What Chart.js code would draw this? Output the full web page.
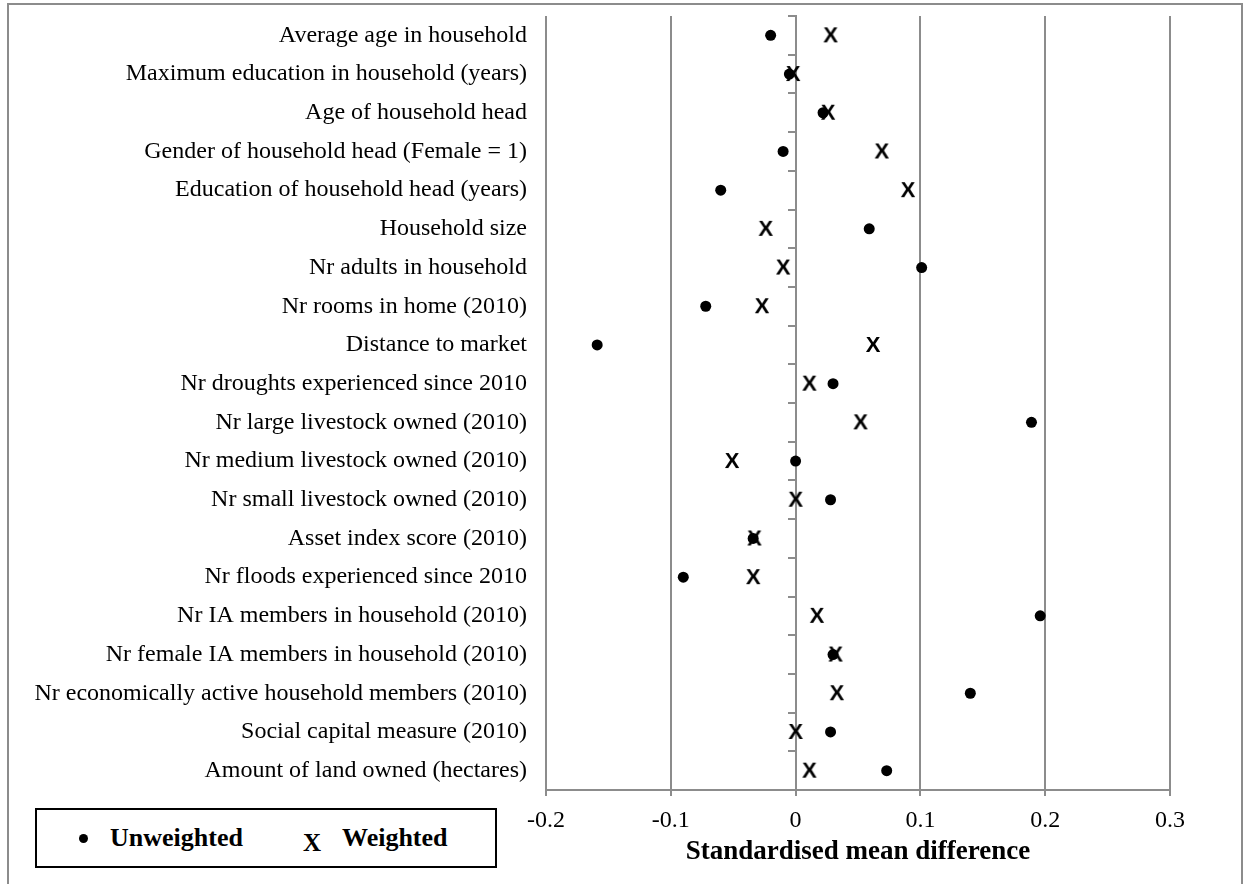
<!DOCTYPE html>
<html>
<head>
<meta charset="utf-8">
<script src="https://cdn.jsdelivr.net/npm/chart.js@4.4.1/dist/chart.umd.min.js"></script>
<style>
  html, body { margin: 0; padding: 0; background: #fff; overflow: hidden; }
  .wrap { position: relative; width: 1252px; height: 884px; }
  .frame { position: absolute; left: 7px; top: 3px; width: 1236px; height: 900px;
           border: 2px solid #8c8c8c; box-sizing: border-box; pointer-events: none; }
  canvas { position: absolute; left: 0; top: 0; }
  .legend { position: absolute; left: 35px; top: 808px; width: 462px; height: 60px;
            border: 2px solid #000; box-sizing: border-box; background: #fff;
            font: bold 26px "Liberation Serif", "Times New Roman", serif; }
  .legend ul { list-style: none; margin: 0; padding: 0; }
  .legend li { position: absolute; top: 13px; white-space: nowrap; }
  .legend .dot { display: inline-block; width: 9px; height: 9px; border-radius: 50%;
                 background: #000; vertical-align: middle; margin-right: 22px; position: relative; top: -2px; }
  .legend .ex { display: inline-block; margin-right: 21px; position: relative; top: 5px; font-size: 25px; }
</style>
</head>
<body>
<div class="wrap">
  <canvas id="smd" width="1252" height="884"></canvas>
  <div class="frame"></div>
  <div class="legend"><ul></ul></div>
</div>
<script>
const categories = [
    "Average age in household",
    "Maximum education in household (years)",
    "Age of household head",
    "Gender of household head (Female = 1)",
    "Education of household head (years)",
    "Household size",
    "Nr adults in household",
    "Nr rooms in home (2010)",
    "Distance to market",
    "Nr droughts experienced since 2010",
    "Nr large livestock owned (2010)",
    "Nr medium livestock owned (2010)",
    "Nr small livestock owned (2010)",
    "Asset index score (2010)",
    "Nr floods experienced since 2010",
    "Nr IA members in household (2010)",
    "Nr female IA members in household (2010)",
    "Nr economically active household members (2010)",
    "Social capital measure (2010)",
    "Amount of land owned (hectares)"
];
const unweighted = [-0.020, -0.005, 0.022, -0.010, -0.060, 0.059, 0.101, -0.072, -0.159, 0.030,
                    0.189, 0.000, 0.028, -0.034, -0.090, 0.196, 0.030, 0.140, 0.028, 0.073];
const weighted = [0.028, -0.002, 0.026, 0.069, 0.090, -0.024, -0.010, -0.027, 0.062, 0.011,
                  0.052, -0.051, 0.000, -0.033, -0.034, 0.017, 0.032, 0.033, 0.000, 0.011];
const xTicks = [-0.2, -0.1, 0, 0.1, 0.2, 0.3];

const serif = '"Liberation Serif", "Times New Roman", serif';
const gridGrey = "#8c8c8c";

// bold letter X used as the marker of the weighted series
const xMark = document.createElement("canvas");
xMark.width = 20;
xMark.height = 22;
const xc = xMark.getContext("2d");
xc.font = 'bold 22px "Liberation Sans", Arial, sans-serif';
xc.textAlign = "center";
xc.textBaseline = "middle";
xc.fillStyle = "#000";
xc.fillText("X", 10, 12);

const toPoints = vals => vals.map((v, i) => ({ x: v, y: categories[i] }));

// labels sit in their bands, so no extra room above/below the plot
const noVertPad = s => { s.paddingTop = 0; s.paddingBottom = 0; };

const smd = new Chart(document.getElementById("smd"), {
    type: "scatter",
    data: {
        labels: categories,
        datasets: [
            {
                label: "Unweighted",
                data: toPoints(unweighted),
                pointStyle: "circle",
                pointRadius: 5.5,
                backgroundColor: "#000",
                borderWidth: 0,
                yAxisID: "y",
            },
            {
                label: "Weighted",
                data: toPoints(weighted),
                pointStyle: xMark,
                backgroundColor: "#000",
                yAxisID: "y",
            },
        ],
    },
    options: {
        responsive: false,
        animation: false,
        devicePixelRatio: 1,
        layout: { padding: { top: 16, right: 82, left: 0, bottom: 0 } },
        plugins: {
            legend: { display: false },
            tooltip: { enabled: false },
        },
        scales: {
            x: {
                type: "linear",
                min: -0.2,
                max: 0.3,
                afterBuildTicks: s => { s.ticks = xTicks.map(v => ({ value: v })); },
                afterFit: s => { s.height = 94; },
                ticks: {
                    color: "#000",
                    font: { family: serif, size: 24 },
                    padding: 10,
                    callback: v => String(v),
                },
                grid: { color: gridGrey, lineWidth: 2, tickLength: 6 },
                border: { color: gridGrey, width: 2 },
                title: {
                    display: true,
                    text: "Standardised mean difference",
                    color: "#000",
                    font: { family: serif, size: 27, weight: "bold" },
                    padding: { top: 0, bottom: 16 },
                },
            },
            y: {
                type: "category",
                offset: true,
                afterFit: s => { s.width = 546; noVertPad(s); },
                ticks: {
                    color: "#000",
                    font: { family: serif, size: 24 },
                    padding: 19,
                    autoSkip: false,
                },
                grid: { display: false, drawTicks: false },
                border: { display: false },
            },
            y2: {
                type: "category",
                axis: "y",
                offset: true,
                position: { x: 0 },
                afterFit: noVertPad,
                ticks: { display: false },
                grid: { offset: true, drawOnChartArea: false, color: gridGrey, lineWidth: 2, tickLength: 7 },
                border: { color: gridGrey, width: 2 },
            },
        },
    },
});

// legend built from the datasets, placed in its box under the labels
const ul = document.querySelector(".legend ul");
const legendLeft = [42, 266];
smd.data.datasets.forEach((ds, i) => {
    const li = document.createElement("li");
    li.style.left = legendLeft[i] + "px";
    const sym = i === 0 ? "<span class='dot'></span>" : "<span class='ex'>X</span>";
    li.innerHTML = sym + ds.label;
    ul.appendChild(li);
});
</script>
</body>
</html>
